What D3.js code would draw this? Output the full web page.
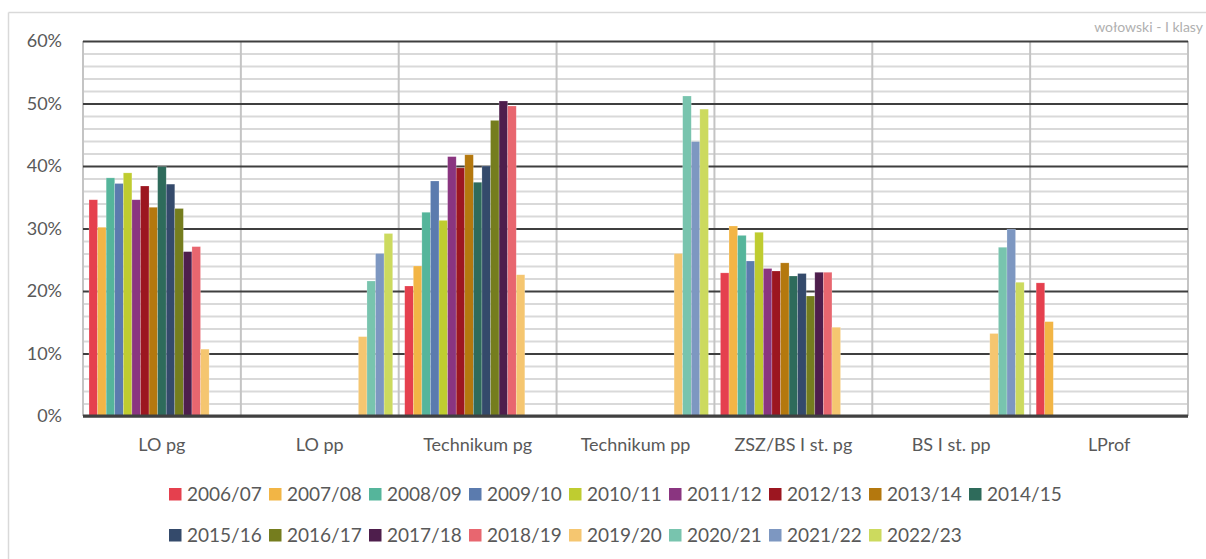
<!DOCTYPE html>
<html>
<head>
<meta charset="utf-8">
<script src="https://cdn.jsdelivr.net/npm/d3@7"></script>
<style>
  html, body { margin: 0; padding: 0; background: #fff; }
  svg { display: block; font-family: Lato, "Open Sans", sans-serif; }
</style>
</head>
<body>
<div id="chart"></div>
<script>
// Share of students per school type and school year

const categories = ["LO pg", "LO pp", "Technikum pg", "Technikum pp", "ZSZ/BS I st. pg", "BS I st. pp", "LProf"];

const seasons = ["2006/07", "2007/08", "2008/09", "2009/10", "2010/11", "2011/12", "2012/13", "2013/14", "2014/15",
                 "2015/16", "2016/17", "2017/18", "2018/19", "2019/20", "2020/21", "2021/22", "2022/23"];

const colors = ["#E5404E", "#F2B545", "#55B59B", "#5B7BAE", "#BFCC30", "#8A3580", "#9C1620", "#B4780E", "#2E6B5B",
                "#344A6B", "#757D1E", "#4E1E4C", "#E8666F", "#F5C670", "#78C4AE", "#7D97C1", "#CCDA5E"];

// values per category, one per season (null = no bar)
const loPg        = [34.6, 30.2, 38.1, 37.2, 38.9, 34.6, 36.8, 33.4, 39.9, 37.1, 33.2, 26.3, 27.1, 10.7, null, null, null];
const loPp        = [null, null, null, null, null, null, null, null, null, null, null, null, null, 12.7, 21.6, 26.0, 29.2];
const techPg      = [20.8, 24.0, 32.6, 37.6, 31.3, 41.5, 39.7, 41.8, 37.4, 40.0, 47.3, 50.4, 49.6, 22.6, null, null, null];
const techPp      = [null, null, null, null, null, null, null, null, null, null, null, null, null, 26.0, 51.2, 43.9, 49.1];
const zszPg       = [22.9, 30.4, 28.9, 24.8, 29.4, 23.6, 23.2, 24.5, 22.4, 22.8, 19.2, 23.0, 23.0, 14.2, null, null, null];
const bsPp        = [null, null, null, null, null, null, null, null, null, null, null, null, null, 13.2, 27.0, 29.9, 21.4];
const lProf       = [21.3, 15.1, null, null, null, null, null, null, null, null, null, null, null, null, null, null, null];

const yTicks = [0, 10, 20, 30, 40, 50, 60];

const W = 1206, H = 559;
const plot = { left: 83, right: 1188, top: 41, bottom: 416 };

const rows = [loPg, loPp, techPg, techPp, zszPg, bsPp, lProf];
const table = categories.map((c, i) => ({
    category: c,
    bars: seasons.map((s, j) => ({ season: s, idx: j, value: rows[i][j] })).filter(d => d.value != null)
}));

const svg = d3.select("#chart").append("svg")
    .attr("width", W)
    .attr("height", H);

// outer chart frame (only top and left edges visible)
svg.append("line").attr("x1", 8.5).attr("x2", W).attr("y1", 12.5).attr("y2", 12.5)
    .attr("stroke", "#d9d9d9").attr("stroke-width", 1.5);
svg.append("line").attr("x1", 8.5).attr("x2", 8.5).attr("y1", 12.5).attr("y2", H)
    .attr("stroke", "#d9d9d9").attr("stroke-width", 1.5);

svg.append("text")
    .attr("x", 1203)
    .attr("y", 32)
    .attr("text-anchor", "end")
    .attr("fill", "#b0b0b0")
    .style("font-size", "14px")
    .text("wołowski - I klasy");

const x0 = d3.scaleBand().domain(categories).range([plot.left, plot.right]).padding(0);
const x1 = d3.scaleBand().domain(seasons).range([0, x0.bandwidth()]).paddingInner(0).paddingOuter(0.7);
const y = d3.scaleLinear().domain([0, 60]).range([plot.bottom, plot.top]);
const color = d3.scaleOrdinal().domain(seasons).range(colors);

// minor gridlines every 2%
svg.append("g")
    .attr("transform", `translate(${plot.left},0)`)
    .call(d3.axisLeft(y).tickValues(d3.range(2, 60, 2).filter(v => v % 10 !== 0)).tickSize(-(plot.right - plot.left)).tickFormat(""))
    .call(g => g.select(".domain").remove())
    .call(g => g.selectAll("line").attr("stroke", "#d9d9d9").attr("stroke-width", 2));

// vertical category separators
svg.append("g")
    .selectAll("line")
    .data(categories.concat(["end"]))
    .join("line")
    .attr("x1", (d, i) => plot.left + i * x0.bandwidth())
    .attr("x2", (d, i) => plot.left + i * x0.bandwidth())
    .attr("y1", plot.top)
    .attr("y2", plot.bottom)
    .attr("stroke", "#c4c4c4")
    .attr("stroke-width", 2);

// major gridlines + labels
svg.append("g")
    .attr("transform", `translate(${plot.left},0)`)
    .call(d3.axisLeft(y).tickValues(yTicks).tickSize(-(plot.right - plot.left)).tickPadding(21).tickFormat(d => d + "%"))
    .call(g => g.select(".domain").remove())
    .call(g => g.selectAll("line").attr("stroke", "#3f3f3f").attr("stroke-width", 2))
    .call(g => g.selectAll("text").attr("fill", "#595959").style("font-size", "18px").style("font-family", "Lato, sans-serif"));

// bars
const groups = svg.append("g")
    .selectAll("g")
    .data(table)
    .join("g")
    .attr("transform", d => `translate(${x0(d.category)},0)`);

groups.selectAll("rect")
    .data(d => d.bars)
    .join("rect")
    .attr("x", d => x1(d.season))
    .attr("width", x1.bandwidth())
    .attr("y", d => y(d.value))
    .attr("height", d => y(0) - y(d.value))
    .attr("fill", d => color(d.season))
    .attr("stroke", "#ffffff")
    .attr("stroke-opacity", 0.35)
    .attr("stroke-width", 0.6);

// bottom axis line
svg.append("line")
    .attr("x1", plot.left).attr("x2", plot.right)
    .attr("y1", plot.bottom).attr("y2", plot.bottom)
    .attr("stroke", "#404040").attr("stroke-width", 3);

// category labels
svg.append("g")
    .selectAll("text")
    .data(categories)
    .join("text")
    .attr("x", d => x0(d) + x0.bandwidth() / 2)
    .attr("y", 451)
    .attr("text-anchor", "middle")
    .attr("fill", "#595959")
    .style("font-size", "18px")
    .text(d => d);

// legend: 9 items in first row, 8 in second
const legend = svg.append("g")
    .selectAll("g")
    .data(seasons)
    .join("g")
    .attr("transform", (d, i) => `translate(${169 + (i % 9) * 100},${i < 9 ? 488 : 529})`);

legend.append("rect")
    .attr("width", 12.5)
    .attr("height", 12.5)
    .attr("fill", d => color(d));

legend.append("text")
    .attr("x", 18)
    .attr("y", 13)
    .attr("fill", "#595959")
    .style("font-size", "19px")
    .text(d => d);
</script>
</body>
</html>
